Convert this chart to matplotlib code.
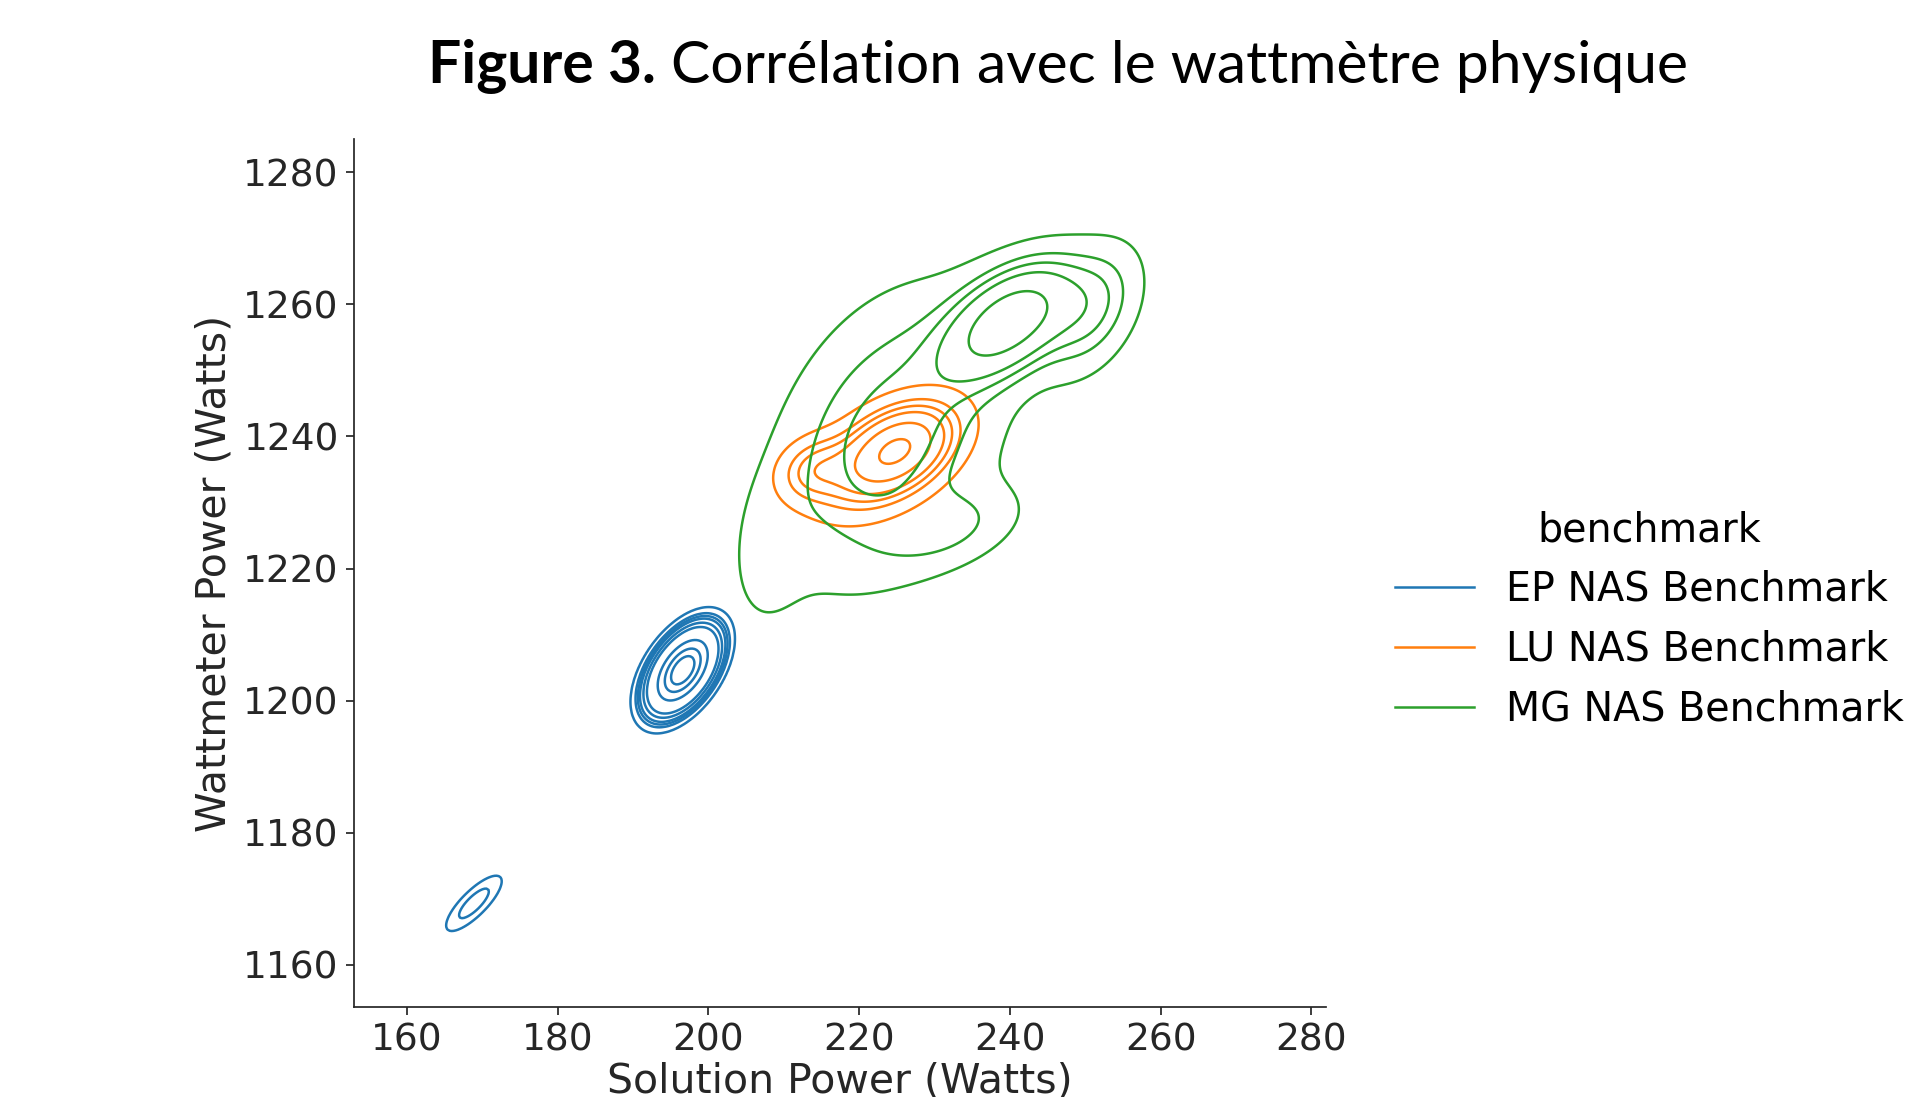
import numpy as np
import matplotlib
matplotlib.use("Agg")
import matplotlib.pyplot as plt
from matplotlib.lines import Line2D

# Benchmarks, share of the samples, colours
benchmarks = ["EP NAS Benchmark", "LU NAS Benchmark", "MG NAS Benchmark"]
benchmark_share = [0.45, 0.14, 0.41]
colors = ["#1f77b4", "#ff7f0e", "#2ca02c"]

# Density components (Watts):
# centre x, centre y, spread x, spread y, correlation, weight
ep_x = [196.6, 168.9]
ep_y = [1204.6, 1169.3]
ep_sx = [2.1, 2.2]
ep_sy = [2.9, 2.5]
ep_rho = [0.5, 0.8]
ep_w = [0.989, 0.011]

lu_x = [225.0, 224.0, 214.0]
lu_y = [1238.0, 1237.0, 1235.0]
lu_sx = [3.5, 5.5, 3.0]
lu_sy = [3.2, 5.0, 3.0]
lu_rho = [0.4, 0.45, 0.2]
lu_w = [0.30, 0.60, 0.10]

mg_x = [240.0, 224.0, 251.0, 208.0, 232.0]
mg_y = [1257.5, 1240.0, 1259.0, 1222.0, 1226.0]
mg_sx = [5.5, 9.0, 4.0, 3.5, 6.0]
mg_sy = [5.5, 13.0, 6.0, 8.0, 4.0]
mg_rho = [0.5, 0.35, 0.4, 0.2, 0.4]
mg_w = [0.33, 0.51, 0.08, 0.03, 0.05]

x_ticks = [160, 180, 200, 220, 240, 260, 280]
y_ticks = [1160, 1180, 1200, 1220, 1240, 1260, 1280]


def gauss_mix(xx, yy, mx, my, sx, sy, rho, w):
    z = np.zeros_like(xx)
    for i in range(len(mx)):
        dx = (xx - mx[i]) / sx[i]
        dy = (yy - my[i]) / sy[i]
        r = rho[i]
        q = (dx**2 - 2 * r * dx * dy + dy**2) / (1 - r**2)
        z += w[i] * np.exp(-q / 2) / (2 * np.pi * sx[i] * sy[i] * np.sqrt(1 - r**2))
    return z


# Grid and densities
gx = np.linspace(150, 285, 500)
gy = np.linspace(1150, 1290, 500)
xx, yy = np.meshgrid(gx, gy)
components = [
    (ep_x, ep_y, ep_sx, ep_sy, ep_rho, ep_w),
    (lu_x, lu_y, lu_sx, lu_sy, lu_rho, lu_w),
    (mg_x, mg_y, mg_sx, mg_sy, mg_rho, mg_w),
]
densities = [share * gauss_mix(xx, yy, *comp)
             for share, comp in zip(benchmark_share, components)]

# Common iso-proportion levels (like seaborn kdeplot, levels=10, thresh=0.05)
iso = np.linspace(0.05, 1, 10)
values = np.sort(np.concatenate([d.ravel() for d in densities]))[::-1]
cum = np.cumsum(values) / values.sum()
levels = np.take(values, np.searchsorted(cum, 1 - iso), mode="clip")[:-1]

# Plotting
fig = plt.figure(figsize=(19.14, 10.97), dpi=100)
ax = fig.add_axes([0.185, 0.082, 0.508, 0.791])
for d, c in zip(densities, colors):
    ax.contour(xx, yy, d, levels=levels, colors=c, linewidths=1.8)

ax.set_xlim(153.0, 282.0)
ax.set_ylim(1153.6, 1285.0)
ax.set_xticks(x_ticks)
ax.set_yticks(y_ticks)
ax.tick_params(labelsize=27, length=6, width=1.25, pad=5, color=".15", labelcolor=".15")
for side in ["top", "right"]:
    ax.spines[side].set_visible(False)
for side in ["left", "bottom"]:
    ax.spines[side].set_linewidth(1.25)
    ax.spines[side].set_color(".15")
ax.set_xlabel("Solution Power (Watts)", fontsize=29.5, labelpad=2, color=".15")
ax.set_ylabel("Wattmeter Power (Watts)", fontsize=29.5, labelpad=6, color=".15")

handles = [Line2D([0], [0], color=c, lw=1.8) for c in colors]
fig.legend(handles, benchmarks, title="benchmark", frameon=False,
           fontsize=28.5, title_fontsize=28.5, loc="center left",
           bbox_to_anchor=(0.729, 0.435), borderpad=0, borderaxespad=0,
           handlelength=2.0, handletextpad=0.8)

# Title: bold "Figure 3." followed by regular text, fitted to its width
renderer = fig.canvas.get_renderer()
W = fig.bbox.width
x0 = 428
y_base = 1 - 83 / 1097
size = 40
t1 = fig.text(x0 / W, y_base, "Figure 3.", fontsize=size, fontweight="bold",
              family="Lato", va="baseline")
t2 = fig.text(0, y_base, " Corrélation avec le wattmètre physique",
              fontsize=size, family="Lato", va="baseline")
w1 = t1.get_window_extent(renderer).width
w2 = t2.get_window_extent(renderer).width
size = size * 1260 / (w1 + w2)
t1.set_fontsize(size)
t2.set_fontsize(size)
w1 = t1.get_window_extent(renderer).width
t2.set_x((x0 + w1) / W)

plt.savefig("out.png", dpi=100)
